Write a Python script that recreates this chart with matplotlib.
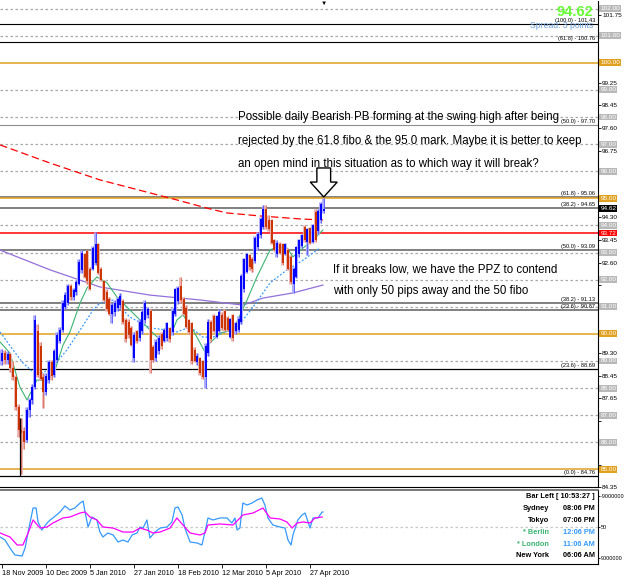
import matplotlib
matplotlib.use("Agg")
import matplotlib.pyplot as plt
from matplotlib.patches import Polygon

plt.rcParams['font.family'] = ['Liberation Sans', 'DejaVu Sans']

# ---- daily candles, 18 Nov 2009 .. 4 May 2010 (bar 0 = 18 Nov 2009)
opens = [89.00, 89.30, 89.05, 89.25, 88.75, 88.40, 87.30, 86.45, 86.40, 86.10,
         87.20, 87.55, 88.05, 90.10, 89.55, 88.40, 87.85, 88.30, 88.95, 88.50,
         89.05, 89.75, 90.15, 91.00, 91.15, 91.75, 91.35, 91.55, 91.85, 92.35,
         92.95, 93.05, 92.40, 92.40, 92.60, 93.30, 92.40, 91.95, 91.55, 91.30,
         90.75, 90.80, 90.95, 91.05, 91.20, 90.50, 90.45, 90.20, 89.10, 90.10,
         89.85, 90.10, 90.50, 90.70, 90.85, 89.50, 89.10, 89.35, 90.00, 89.75,
         89.85, 90.20, 90.05, 90.75, 91.20, 91.75, 91.30, 90.95, 90.50, 90.40,
         89.40, 88.95, 89.10, 89.00, 88.40, 89.30, 90.45, 90.65, 89.90, 90.10,
         90.70, 90.85, 90.60, 89.90, 90.70, 90.10, 90.15, 90.45, 91.65, 92.30,
         92.90, 92.75, 92.70, 93.20, 93.65, 93.95, 94.60, 94.20, 94.20, 93.45,
         92.95, 93.30, 93.30, 92.95, 93.10, 92.85, 91.85, 92.10, 92.95, 93.25,
         93.95, 93.40, 93.90, 93.40, 94.50, 93.80, 94.20, 94.55]
highs = [89.45, 89.40, 89.35, 89.30, 89.00, 88.50, 87.40, 86.90, 86.55, 87.30,
         87.65, 88.15, 90.70, 90.35, 89.70, 88.55, 88.55, 89.05, 89.05, 89.45,
         90.05, 90.25, 91.25, 91.55, 91.85, 91.85, 91.70, 92.00, 92.75, 93.10,
         93.00, 93.10, 92.45, 93.25, 93.77, 93.35, 92.45, 92.00, 91.65, 91.35,
         91.15, 91.25, 91.35, 91.50, 91.30, 90.60, 90.55, 90.30, 90.05, 90.15,
         90.55, 90.90, 91.25, 91.00, 90.90, 89.60, 89.80, 89.95, 90.05, 90.20,
         90.45, 90.25, 90.95, 91.70, 91.75, 92.10, 91.35, 91.05, 90.55, 90.45,
         89.50, 89.30, 89.15, 89.05, 89.65, 90.55, 90.50, 90.75, 90.70, 90.90,
         90.80, 90.90, 90.65, 90.60, 90.75, 90.45, 90.65, 92.20, 92.80, 93.00,
         92.95, 92.85, 93.60, 93.75, 94.30, 94.77, 94.75, 94.40, 94.25, 93.50,
         93.45, 93.40, 93.35, 93.35, 93.15, 92.90, 92.45, 93.25, 93.50, 93.70,
         94.00, 93.90, 93.95, 94.05, 94.60, 94.60, 94.85, 95.00]
lows = [88.85, 88.90, 88.90, 88.60, 88.30, 87.20, 86.20, 84.82, 85.75, 86.00,
        86.95, 87.40, 87.95, 88.40, 88.30, 87.27, 87.75, 88.20, 88.30, 88.40,
        88.95, 89.65, 90.05, 90.90, 91.05, 91.25, 91.25, 91.45, 91.80, 92.25,
        92.05, 91.85, 91.60, 92.35, 92.55, 92.20, 91.95, 91.20, 90.85, 90.70,
        90.40, 90.65, 90.85, 90.95, 90.35, 89.70, 89.85, 89.55, 88.95, 89.65,
        89.75, 90.00, 90.40, 90.60, 88.55, 88.95, 89.00, 89.25, 89.45, 89.70,
        89.75, 89.70, 89.95, 90.65, 91.10, 91.15, 90.70, 90.20, 90.00, 88.90,
        88.95, 88.85, 88.50, 88.35, 88.00, 89.20, 89.70, 90.05, 89.85, 90.05,
        90.15, 90.10, 90.10, 89.85, 89.75, 90.00, 90.05, 90.35, 91.55, 92.25,
        92.35, 92.30, 92.60, 93.10, 93.55, 93.85, 93.85, 93.80, 93.30, 93.05,
        92.85, 92.95, 92.55, 92.90, 92.35, 91.85, 91.50, 92.05, 92.85, 93.15,
        93.40, 92.90, 93.30, 93.35, 93.40, 93.70, 94.10, 94.45]
closes = [89.30, 89.05, 89.25, 88.75, 88.40, 87.30, 86.45, 86.35, 86.00, 87.20,
          87.55, 88.05, 90.50, 88.50, 88.35, 87.85, 88.45, 88.95, 88.45, 89.35,
          89.95, 90.15, 91.15, 91.45, 91.75, 91.35, 91.60, 91.90, 92.65, 93.00,
          92.10, 91.95, 91.65, 93.15, 93.30, 92.25, 92.00, 91.25, 90.90, 90.75,
          91.05, 91.15, 91.30, 91.40, 90.45, 89.80, 89.95, 89.60, 89.95, 89.75,
          90.45, 90.80, 91.15, 90.90, 89.05, 89.05, 89.70, 89.85, 89.55, 90.15,
          90.40, 89.80, 90.85, 91.65, 91.70, 91.25, 90.75, 90.25, 90.05, 89.00,
          89.00, 89.20, 88.55, 88.40, 89.55, 90.45, 89.80, 90.10, 90.65, 90.80,
          90.20, 90.15, 90.15, 90.55, 89.85, 90.40, 90.55, 92.15, 92.75, 92.95,
          92.45, 92.40, 93.55, 93.70, 94.25, 94.60, 93.95, 93.85, 93.35, 93.10,
          93.35, 93.00, 92.60, 93.30, 92.40, 91.90, 92.40, 93.20, 93.45, 93.65,
          93.45, 93.85, 93.35, 94.00, 93.45, 94.55, 94.80, 94.62]

# ---- moving averages (bar position, price)
ma_red_x = [-0.7, 17.5, 35.6, 53.8, 63.6, 75.6, 81.8, 93.8, 108.4, 116.7]
ma_red_y = [96.97, 96.30, 95.68, 95.20, 94.94, 94.61, 94.46, 94.35, 94.24, 94.20]
ma_purple_x = [-0.7, 17.5, 35.6, 53.8, 72.0, 87.6, 94.9, 105.8, 116.7]
ma_purple_y = [93.09, 92.36, 91.73, 91.43, 91.25, 91.06, 91.32, 91.51, 91.80]
ma_green_x = [-0.7, 2.9, 4.7, 6.5, 9.1, 12.7, 16.4, 19.3, 22.2, 24.7, 28.4, 30.9,
              34.5, 38.2, 41.8, 46.5, 51.3, 56.4, 61.1, 63.6, 65.8, 69.5, 73.8,
              75.6, 79.3, 84.0, 89.1, 92.7, 97.5, 100.0, 103.6, 105.8, 109.5,
              113.1, 116.7]
ma_green_y = [89.70, 89.29, 88.67, 88.04, 87.56, 88.30, 88.26, 88.67, 89.59, 90.07,
              91.14, 91.69, 92.10, 91.88, 91.36, 90.88, 90.40, 89.88, 89.88, 90.51,
              90.70, 90.14, 89.33, 89.66, 90.03, 90.14, 91.25, 92.10, 93.10, 93.20,
              93.17, 92.84, 93.17, 93.46, 93.83]
ma_blue_x = [-0.7, 4.0, 7.6, 11.3, 14.9, 18.5, 23.6, 28.4, 33.1, 35.6, 40.4, 46.5,
             53.8, 60.0, 63.6, 68.4, 73.1, 76.7, 82.9, 85.5, 91.3, 97.5, 103.6,
             109.5, 115.6]
ma_blue_y = [90.07, 89.41, 88.93, 88.59, 88.56, 88.78, 89.41, 90.14, 90.88, 91.14,
             91.25, 90.62, 90.22, 90.14, 90.07, 90.25, 89.88, 89.88, 90.14, 90.25,
             90.99, 91.88, 92.36, 92.72, 93.17]

# ---- oscillator panel (bar position, value 0..100)
osc_x = [-0.7, 1.1, 2.9, 4.7, 7.3, 8.4, 9.5, 11.3, 12.4, 13.1, 14.5, 16.4, 17.5,
         18.5, 21.1, 22.9, 24.7, 26.5, 28.4, 29.5, 30.2, 31.3, 32.7, 34.5, 35.6,
         36.7, 38.5, 40.4, 42.2, 44.0, 45.8, 47.3, 49.1, 50.2, 51.3, 52.7, 53.8,
         55.6, 57.5, 60.0, 61.8, 62.9, 64.0, 65.5, 66.5, 68.4, 70.9, 72.7, 73.8,
         74.9, 76.7, 79.3, 81.8, 83.6, 84.7, 85.5, 86.5, 87.6, 89.1, 90.9, 92.7,
         94.5, 95.6, 96.7, 98.5, 101.1, 102.9, 104.0, 105.1, 105.8, 107.6, 109.1,
         110.2, 111.3, 112.0, 113.1, 114.9, 116.4, 116.7]
osc_y = [36.5, 32.4, 21.6, 12.2, 10.8, 21.6, 43.2, 75.7, 75.7, 56.8, 45.9, 55.4,
         59.5, 62.2, 70.3, 78.4, 73.0, 75.7, 82.4, 85.1, 70.3, 50.0, 63.5, 59.5,
         43.2, 36.5, 41.9, 39.2, 29.7, 32.4, 29.7, 39.2, 41.9, 50.0, 48.6, 59.5,
         35.1, 43.2, 48.6, 50.0, 56.8, 75.7, 77.0, 66.2, 48.6, 29.7, 28.4, 25.7,
         43.2, 62.2, 59.5, 62.2, 62.2, 55.4, 62.2, 45.9, 48.6, 82.4, 79.7, 82.4,
         86.5, 89.2, 79.7, 62.2, 52.7, 50.0, 48.6, 32.4, 25.7, 39.2, 59.5, 66.2,
         68.9, 56.8, 48.6, 62.2, 62.2, 70.3, 70.3]
sig_x = [-0.7, 2.9, 5.5, 7.6, 9.5, 11.3, 13.8, 16.4, 18.5, 22.2, 24.7, 28.4, 30.2,
         32.0, 34.5, 36.7, 40.4, 44.0, 47.6, 50.2, 52.7, 54.9, 57.5, 61.1, 63.6,
         65.8, 68.4, 72.0, 73.8, 74.9, 79.3, 84.0, 87.6, 91.3, 94.9, 97.5, 101.1,
         103.6, 105.5, 107.3, 109.5, 112.0, 113.8, 116.4]
sig_y = [41.9, 36.5, 25.7, 25.7, 41.9, 59.5, 48.6, 50.0, 55.4, 62.2, 63.5, 68.9,
         70.3, 63.5, 59.5, 50.0, 48.6, 43.2, 43.2, 48.6, 45.9, 41.9, 43.2, 48.6,
         62.2, 52.7, 41.9, 39.2, 41.9, 52.7, 54.1, 52.7, 66.2, 68.9, 75.7, 62.2,
         60.8, 56.8, 48.6, 55.4, 56.8, 55.4, 62.2, 63.5]

# ---- levels
fib_levels = [101.43, 100.76, 97.70, 95.06, 94.65, 93.09, 91.13, 90.87, 88.69, 84.76]
fib_labels = ["(100.0) - 101.43", "(61.8) - 100.76", "(50.0) - 97.70", "(61.8) - 95.06",
              "(38.2) - 94.65", "(50.0) - 93.09", "(38.2) - 91.13", "(23.6) - 90.87",
              "(23.6) - 88.69", "(0.0) - 84.76"]
fib_colors = ["black", "black", "#909090", "#707070", "#808080", "#808080",
              "#808080", "#808080", "black", "black"]
fib_widths = [0.8, 0.8, 0.8, 1.2, 1.4, 1.4, 1.4, 1.4, 0.9, 0.9]
grey_levels = [102, 101, 99, 98, 97, 96, 94, 93, 92, 91, 89, 88, 87, 86]
orange_levels = [100, 95, 90, 85]
red_level = 93.72
last_price = 94.62
price_ticks = [101.75, 100.90, 100.10, 99.25, 98.45, 97.60, 96.75, 95.95, 95.10,
               94.30, 93.45, 92.60, 91.80, 90.95, 90.15, 89.30, 88.45, 87.65,
               86.80, 85.95, 85.15, 84.35]
date_bars = [0, 16, 32, 48, 64, 80, 96, 112]
date_labels = ["18 Nov 2009", "10 Dec 2009", "5 Jan 2010", "27 Jan 2010",
               "18 Feb 2010", "12 Mar 2010", "5 Apr 2010", "27 Apr 2010"]
cities = ["Sydney", "Tokyo", "* Berlin", "* London", "New York"]
times = ["08:06 PM", "07:06 PM", "12:06 PM", "11:06 AM", "06:06 AM"]

W, H = 625, 577
fig = plt.figure(figsize=(W / 100, H / 100), dpi=100)
fig.patch.set_facecolor("white")


def rect(x0, y0, x1, y1):
    return [x0 / W, 1 - y1 / H, (x1 - x0) / W, (y1 - y0) / H]


def ftext(x, y, s, **kw):
    fig.text(x / W, 1 - y / H, s, **kw)


xlim = (-2 / 2.75, 596 / 2.75)
ax = fig.add_axes(rect(0, 1, 598, 487))
ax.set_xlim(*xlim)
ax.set_ylim(84.35, 102.28)

for p in grey_levels:
    ax.axhline(p, color="#a8a8a8", lw=0.9, ls=(0, (2, 2)), zorder=1)
for p in orange_levels:
    ax.axhline(p, color="#e0a020", lw=1.1, zorder=1.2)
for p, c, w in zip(fib_levels, fib_colors, fib_widths):
    ax.axhline(p, color=c, lw=w, zorder=1.1)
ax.axhline(red_level, color="#ff0000", lw=1.1, zorder=1.3)

trans = ax.get_yaxis_transform()
for p, s in zip(fib_levels, fib_labels):
    ax.text(0.995, p + 0.04, s, transform=trans, ha="right", va="bottom",
            fontsize=4.1, color="black", zorder=6)

# moving averages
ax.plot(ma_red_x, ma_red_y, color="#ff0000", lw=0.9, ls=(0, (6, 3)), zorder=2)
ax.plot(ma_purple_x, ma_purple_y, color="#9370db", lw=0.9, zorder=2)
ax.plot(ma_blue_x, ma_blue_y, color="#3399ff", lw=0.9, ls=(0, (1.5, 1.5)), zorder=2)
ax.plot(ma_green_x, ma_green_y, color="#3cb371", lw=0.8, zorder=2)

# candles
for i in range(len(closes)):
    up = closes[i] >= opens[i]
    pale = "#a8a8ff" if up else "#eab0b0"
    strong = "#0000ff" if up else "#cc3300"
    ax.vlines(i - 0.2, lows[i], highs[i], color=pale, lw=2.0, zorder=3)
    ax.vlines(i, min(opens[i], closes[i]), max(opens[i], closes[i]),
              color=strong, lw=1.4, zorder=4)
    ax.vlines(i, lows[i], highs[i], color=strong, lw=0.5, zorder=4, alpha=0.6)
ax.vlines(6.5, 84.76, 86.9, color="black", lw=0.9, zorder=5)

# hollow arrow above the last bar
tip_x, tip_y = len(closes) - 1, highs[-1] + 0.05
arrow = Polygon([(tip_x, tip_y), (tip_x - 4.9, tip_y + 0.55), (tip_x - 2.5, tip_y + 0.55),
                 (tip_x - 2.5, tip_y + 1.07), (tip_x + 2.5, tip_y + 1.07),
                 (tip_x + 2.5, tip_y + 0.55), (tip_x + 4.9, tip_y + 0.55)],
                closed=True, fc="white", ec="black", lw=1.0, zorder=7)
ax.add_patch(arrow)

# right price scale (labels hidden where a level box sits on top of them)
boxed = grey_levels + orange_levels
ax.yaxis.tick_right()
ax.set_yticks(price_ticks)
ax.set_yticklabels(["" if any(abs(t - b) < 0.21 for b in boxed) else f"{t:.2f}"
                    for t in price_ticks])
ax.tick_params(axis="y", length=2, width=0.6, pad=1, labelsize=4.6)
ax.set_xticks([])
for sp in ["left", "top"]:
    ax.spines[sp].set_visible(False)
ax.spines["right"].set_linewidth(0.8)
ax.spines["bottom"].set_linewidth(0.8)

box = dict(boxstyle="square,pad=0.15", ec="none")
for p in grey_levels:
    ax.text(1.004, p, f"{p:.2f}", transform=trans, ha="left", va="center", fontsize=4.6,
            color="white", bbox=dict(box, fc="#b8b8b8"), clip_on=False, zorder=8)
for p in orange_levels:
    ax.text(1.004, p, f"{p:.2f}", transform=trans, ha="left", va="center", fontsize=4.6,
            color="white", bbox=dict(box, fc="#e0a020"), clip_on=False, zorder=8)
ax.text(1.004, red_level, f"{red_level:.2f}", transform=trans, ha="left", va="center",
        fontsize=4.6, color="white", bbox=dict(box, fc="#ff0000"), clip_on=False, zorder=9)
ax.text(1.004, last_price, f"{last_price:.2f}", transform=trans, ha="left", va="center",
        fontsize=4.6, color="white", bbox=dict(box, fc="black"), clip_on=False, zorder=9)

# oscillator panel
ax2 = fig.add_axes(rect(0, 490, 598, 564))
ax2.set_xlim(*xlim)
ax2.set_ylim(0, 100)
ax2.axhline(50, color="#c8c8c8", lw=0.9, ls=(0, (2, 2)))
ax2.plot(osc_x, osc_y, color="#3399ff", lw=0.9)
ax2.plot(sig_x, sig_y, color="#ff00ff", lw=0.9)
ax2.yaxis.tick_right()
ax2.set_yticks([91.9, 50, 8.1])
ax2.set_yticklabels(["-9000000", "50", "9000000"])
ax2.tick_params(axis="y", length=1.5, width=0.6, pad=0.5, labelsize=4.0)
ax2.set_xticks(date_bars)
ax2.set_xticklabels(date_labels, ha="left")
ax2.tick_params(axis="x", length=3, width=0.6, pad=1.5, labelsize=5.2)
ax2.spines["left"].set_visible(False)
ax2.spines["top"].set_linewidth(1.2)
ax2.spines["top"].set_color("#606060")
ax2.spines["right"].set_linewidth(0.8)
ax2.spines["bottom"].set_linewidth(0.8)

# texts
ftext(238, 117, "Possible daily Bearish PB forming at the swing high after being",
      fontsize=8.3, va="center")
ftext(238, 141, "rejected by the 61.8 fibo & the 95.0 mark. Maybe it is better to keep",
      fontsize=8.3, va="center")
ftext(238, 164, "an open mind in this situation as to which way it will break?",
      fontsize=8.3, va="center")
ftext(333, 270, "If it breaks low, we have the PPZ to contend", fontsize=8.3, va="center")
ftext(333, 291, "with only 50 pips away and the 50 fibo", fontsize=8.3, va="center")

ftext(593, 12, "94.62", fontsize=10.5, fontweight="bold", color="#66ff33",
      ha="right", va="center")
ftext(593, 25, "Spread: 3 points", fontsize=6.2, color="#6fa0d8", ha="right",
      va="center", zorder=0.5)
ftext(323.5, 3, "\u25bc", fontsize=4.5, ha="center", va="center")

ftext(595, 497, "Bar Left [ 10:53:27 ]", fontsize=5.3, fontweight="bold",
      ha="right", va="center")
for k, (c, t) in enumerate(zip(cities, times)):
    y = 509 + k * 11.7
    star = c.startswith("*")
    ftext(549, y, c, fontsize=5.3, fontweight="bold", ha="right", va="center",
          color="#3cb371" if star else "black")
    ftext(595, y, t, fontsize=5.3, fontweight="bold", ha="right", va="center",
          color="#3399ff" if star else "black")

fig.savefig("out.png", dpi=100)
